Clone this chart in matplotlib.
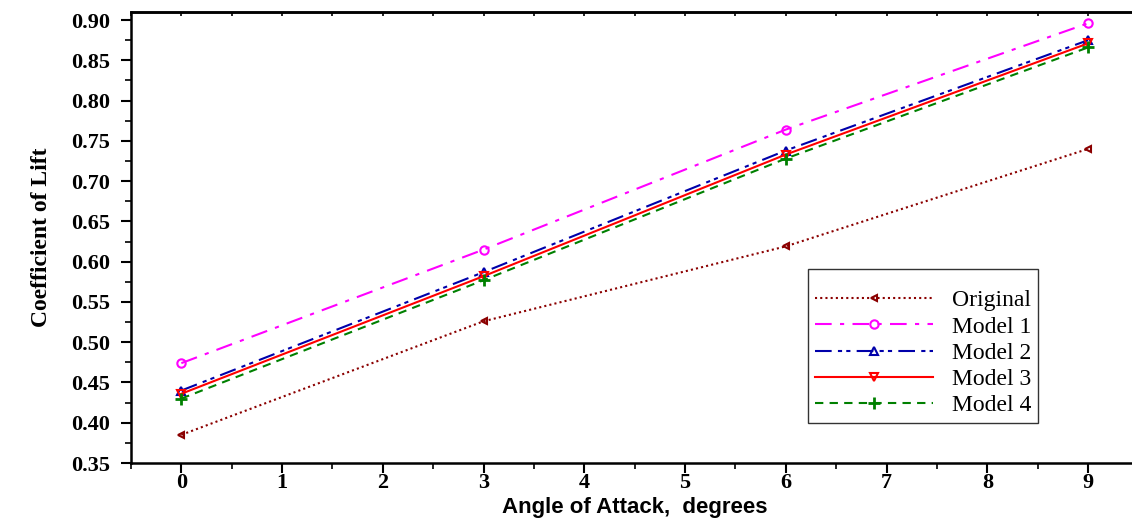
import matplotlib
matplotlib.use("Agg")
import matplotlib.pyplot as plt
from matplotlib.ticker import MultipleLocator

# data
angles = [0, 3, 6, 9]
original = [0.385, 0.526, 0.619, 0.740]
model_1 = [0.474, 0.615, 0.764, 0.896]
model_2 = [0.440, 0.587, 0.738, 0.875]
model_3 = [0.436, 0.582, 0.733, 0.871]
model_4 = [0.430, 0.577, 0.728, 0.866]

x_ticks = list(range(10))
y_ticks = [0.35, 0.40, 0.45, 0.50, 0.55, 0.60, 0.65, 0.70, 0.75, 0.80, 0.85, 0.90]

fig = plt.figure(figsize=(11.32, 5.21), dpi=100)
ax = fig.add_axes([0.1157, 0.1113, 0.8900, 0.8657])

ax.plot(angles, original, color="#8b0000", linestyle=(0, (1, 1.5)), linewidth=1.5,
        marker="<", markersize=5, markerfacecolor="none", markeredgewidth=1.5, label="Original")
ax.plot(angles, model_1, color="#ff00ff", linestyle=(0, (8, 4, 2, 4)), linewidth=1.5,
        marker="o", markersize=6, markerfacecolor="none", markeredgewidth=1.5, label="Model 1")
ax.plot(angles, model_2, color="#0000aa", linestyle=(0, (8, 3, 2, 2, 2, 3)), linewidth=1.5,
        marker="^", markersize=6, markerfacecolor="none", markeredgewidth=1.5, label="Model 2")
ax.plot(angles, model_3, color="#ff0000", linestyle="-", linewidth=1.5,
        marker="v", markersize=6, markerfacecolor="none", markeredgewidth=1.5, label="Model 3")
ax.plot(angles, model_4, color="#008000", linestyle=(0, (4, 3)), linewidth=1.5,
        marker="+", markersize=8, markeredgewidth=2, label="Model 4")

ax.set_xlim(-0.5, 9.5)
ax.set_ylim(0.35, 0.91)
ax.set_xticks(x_ticks)
ax.set_yticks(y_ticks)
ax.set_yticklabels([f"{v:.2f}" for v in y_ticks])
ax.xaxis.set_minor_locator(MultipleLocator(0.5))
ax.yaxis.set_minor_locator(MultipleLocator(0.025))

ax.spines["right"].set_visible(False)
for s in ["left", "bottom", "top"]:
    ax.spines[s].set_linewidth(1.8)

ax.tick_params(which="major", direction="out", length=7, width=1.5)
ax.tick_params(which="minor", direction="out", length=4, width=1.2)
ax.tick_params(axis="y", which="major", pad=8)
ax.tick_params(axis="x", which="major", pad=0)

# small inward ticks along the top spine
top = ax.secondary_xaxis("top")
top.set_xticks(x_ticks)
top.xaxis.set_minor_locator(MultipleLocator(0.5))
top.tick_params(which="both", direction="in", length=3, width=1.2, labeltop=False)
top.spines["top"].set_linewidth(1.8)

for lab in ax.get_xticklabels() + ax.get_yticklabels():
    lab.set_fontfamily("Liberation Serif")
    lab.set_fontweight("bold")
    lab.set_fontsize(16)

ax.set_xlabel("Angle of Attack,  degrees", fontfamily="Liberation Sans",
              fontweight="bold", fontsize=16, labelpad=3)
ax.set_ylabel("Coefficient of Lift", fontfamily="Liberation Serif",
              fontweight="bold", fontsize=17, labelpad=14)

# blank title gives the extra space above the first entry
leg = ax.legend(loc="upper left", bbox_to_anchor=(808 / 1132, 1 - 269 / 521),
                bbox_transform=fig.transFigure, borderaxespad=0,
                prop={"family": "Liberation Serif", "size": 17},
                title=" ", title_fontsize=6,
                frameon=True, fancybox=False, handlelength=5.0,
                borderpad=0.3, labelspacing=0.2, handletextpad=0.8)
leg.get_frame().set_edgecolor("black")
leg.get_frame().set_linewidth(1.0)

fig.savefig("out.png", dpi=100)
